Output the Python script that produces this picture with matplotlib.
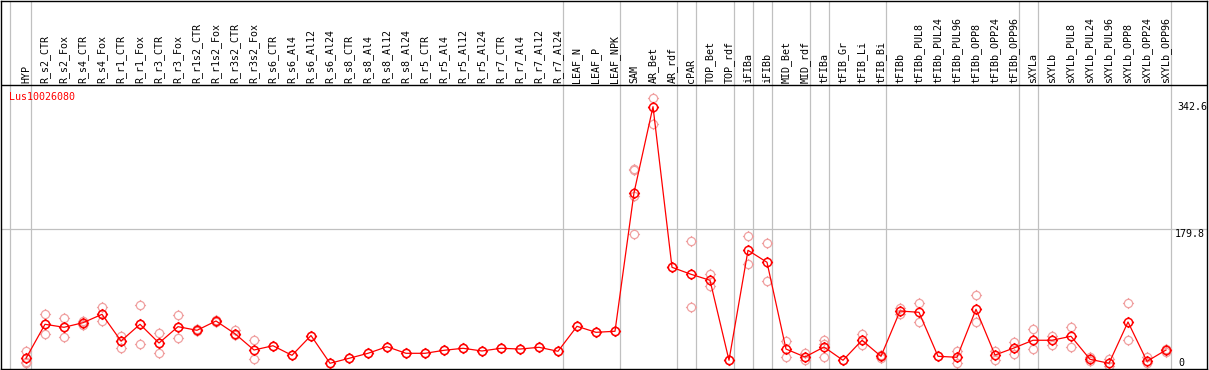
import numpy as np
import matplotlib
matplotlib.use('Agg')
import matplotlib.pyplot as plt
from matplotlib.path import Path

gene = 'Lus10026080'
samples = ['HYP', 'R_s2_CTR', 'R_s2_Fox', 'R_s4_CTR', 'R_s4_Fox', 'R_r1_CTR', 'R_r1_Fox',
           'R_r3_CTR', 'R_r3_Fox', 'R_r1s2_CTR', 'R_r1s2_Fox', 'R_r3s2_CTR', 'R_r3s2_Fox',
           'R_s6_CTR', 'R_s6_Al4', 'R_s6_Al12', 'R_s6_Al24', 'R_s8_CTR', 'R_s8_Al4',
           'R_s8_Al12', 'R_s8_Al24', 'R_r5_CTR', 'R_r5_Al4', 'R_r5_Al12', 'R_r5_Al24',
           'R_r7_CTR', 'R_r7_Al4', 'R_r7_Al12', 'R_r7_Al24', 'LEAF_N', 'LEAF_P', 'LEAF_NPK',
           'SAM', 'AR_Bet', 'AR_rdf', 'cPAR', 'TOP_Bet', 'TOP_rdf', 'iFIBa', 'iFIBb',
           'MID_Bet', 'MID_rdf', 'tFIBa', 'tFIB_Gr', 'tFIB_Li', 'tFIB_Bi', 'tFIBb',
           'tFIBb_PUL8', 'tFIBb_PUL24', 'tFIBb_PUL96', 'tFIBb_OPP8', 'tFIBb_OPP24',
           'tFIBb_OPP96', 'sXYLa', 'sXYLb', 'sXYLb_PUL8', 'sXYLb_PUL24', 'sXYLb_PUL96',
           'sXYLb_OPP8', 'sXYLb_OPP24', 'sXYLb_OPP96']

means = [6.9, 52.3, 48.3, 54.4, 65.6, 30.0, 52.3, 27.3, 49.1, 44.3, 56.7, 39.7, 18.0,
         23.7, 10.9, 37.3, 0.3, 6.9, 13.6, 22.4, 13.6, 13.6, 17.6, 20.3, 16.7, 20.3, 19.3,
         21.6, 16.3, 49.6, 41.6, 43.0, 227.8, 342.6, 128.3, 119.0, 111.0, 4.3, 151.0, 135.0,
         19.3, 8.7, 22.0, 4.3, 31.0, 9.6, 70.0, 68.3, 9.6, 8.3, 72.3, 11.3, 20.7, 31.0, 31.0,
         36.3, 5.6, 0.3, 55.4, 2.9, 18.0]

reps = [[16.7, 0.0, 2.0], [65.6, 38.9, 52.3], [60.3, 35.7, 48.3], [56.7, 51.4, 54.4],
        [75.0, 57.1, 65.6], [36.7, 21.1, 30.0], [77.6, 25.6, 52.3], [40.3, 13.6, 27.3],
        [64.7, 34.4, 49.1], [45.6, 43.0], [58.0, 55.4], [44.7, 37.6], [31.3, 6.0],
        [23.7], [10.9], [37.3], [0.3], [6.9], [13.6], [22.4], [13.6], [13.6], [17.6],
        [20.3], [16.7], [20.3], [19.3], [21.6], [16.3], [49.6], [41.6], [43.0],
        [259.8, 258.0, 223.8, 172.3], [354.1, 319.1], [128.3], [163.0, 75.0],
        [119.4, 103.8], [4.3], [170.0, 132.3], [160.7, 110.0], [29.6, 8.7],
        [13.6, 4.7], [31.7, 26.0, 8.7], [4.3], [39.3, 24.3], [7.3, 11.3], [74.0, 66.0],
        [80.3, 55.4], [9.6], [16.7, 0.0], [91.0, 55.4], [16.3, 4.7], [28.7, 13.1],
        [45.6, 18.9], [36.7, 25.1], [48.3, 22.4], [8.3, 3.0], [6.4, -3.0], [80.3, 31.0],
        [8.3, 1.0], [15.7, 19.7]]

# group separators (after these columns)
separators = [-0.84, 0.25, 28.25, 31.25, 34.25, 35.25, 37.25, 38.25, 39.25, 41.25,
              42.25, 45.25, 52.25, 53.25, 60.25]
y_labels = [342.6, 179.8, 0]

# circle marker with four small ticks
circ = Path.unit_circle()
ticks = Path([(0, 1), (0, 1.35), (0, -1), (0, -1.35), (1, 0), (1.35, 0), (-1, 0), (-1.35, 0)],
             [Path.MOVETO, Path.LINETO] * 4)
mk = Path.make_compound_path(circ, ticks)

fig = plt.figure(figsize=(12.09, 3.70), dpi=100)
W, H = 1209.0, 370.0
ax = fig.add_axes([1 / W, 1.5 / H, 1206 / W, 368 / H])
ax.set_xlim((1 - 26) / 19.0, (1207 - 26) / 19.0)
ax.set_ylim(-6.67, 484.2)
ax.set_xticks([])
ax.set_yticks([])
for s in ax.spines.values():
    s.set_linewidth(1.0)
    s.set_color('black')

x = np.arange(len(samples))
trans = ax.get_xaxis_transform()
head_y = (368.5 - 85) / 368.0

for s in separators:
    ax.axvline(s, color='#c0c0c0', lw=0.9, zorder=1)
ax.plot([0, 1], [head_y, head_y], transform=ax.transAxes, color='black', lw=1.0, zorder=5)
ax.axhline(179.8, color='#c0c0c0', lw=0.9, zorder=1)

# replicates
for i, r in enumerate(reps):
    ax.plot([i] * len(r), r, linestyle='none', marker=mk, markersize=8,
            markerfacecolor='none', markeredgecolor='#f0a0a0', markeredgewidth=0.9, zorder=2)
ax.plot(x, means, color='red', lw=0.9, zorder=3)
ax.plot(x, means, linestyle='none', marker=mk, markersize=8, markerfacecolor='none',
        markeredgecolor='red', markeredgewidth=1.1, zorder=4)

for i, name in enumerate(samples):
    ax.text(i, (368.5 - 83) / 368.0, name, transform=trans, rotation=90, ha='center',
            va='bottom', fontsize=7.2, family='DejaVu Sans Mono')

ax.text(8 / 1206, (368.5 - 97) / 368.0, gene, transform=ax.transAxes, color='red',
        fontsize=7.2, family='DejaVu Sans Mono', va='center', ha='left')

xr = (1177 - 26) / 19.0
ax.text(xr, y_labels[0], '%.1f' % y_labels[0], fontsize=7.2, family='DejaVu Sans Mono',
        va='center', ha='left', clip_on=True)
ax.text(xr - 0.1, y_labels[1], '%.1f' % y_labels[1], fontsize=7.2, family='DejaVu Sans Mono',
        va='top', ha='left', clip_on=True)
ax.text(xr + 0.05, y_labels[2], '%d' % y_labels[2], fontsize=7.2, family='DejaVu Sans Mono',
        va='center', ha='left', clip_on=True)

fig.savefig('out.png', dpi=100)
